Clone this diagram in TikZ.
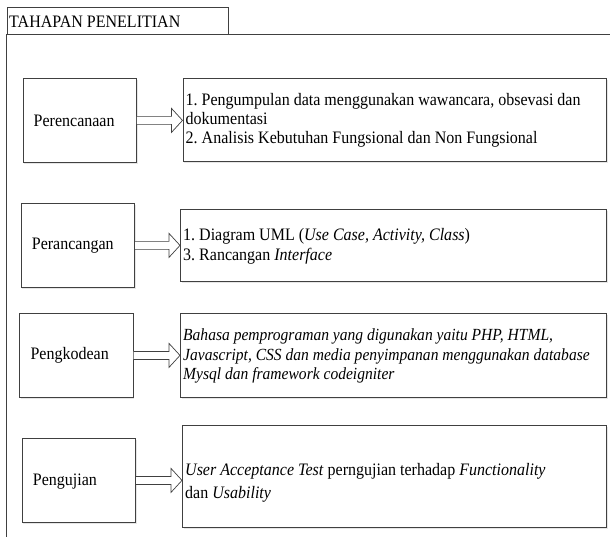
\documentclass[tikz,border=0pt]{standalone}
\usepackage{fontspec}
\setmainfont{Liberation Serif}[FakeStretch=0.915]
\usetikzlibrary{calc,shadows}
\frenchspacing
\newcommand\hollowarrow[2]{%
  \draw[harrow] ($(#1.east)+(0,-4)$) -- ($(#1.east -| #2.west)+(-11,-4)$) -- ($(#1.east -| #2.west)+(-11,-12)$) -- (#1.east -| #2.west) -- ($(#1.east -| #2.west)+(-11,12)$) -- ($(#1.east -| #2.west)+(-11,4)$) -- ($(#1.east)+(0,4)$);}
\begin{document}
\begin{tikzpicture}[x=1pt,y=-1pt,
  line/.style={draw=black!75, line width=0.8pt},
  shad/.style={fill=white, drop shadow={opacity=0.2, shadow xshift=1.2pt, shadow yshift=-1.2pt}},
  txt/.style={font=\fontsize{17.5}{19}\selectfont, inner sep=0pt, align=left, anchor=west},
  lbox/.style={line, shad, anchor=north west, inner sep=0pt, minimum height=84pt, minimum width=113.5pt},
  rbox/.style={line, shad, anchor=north west, inner sep=0pt},
  harrow/.style={draw=black!75, line width=0.7pt, fill=white, line join=miter}]
\useasboundingbox (0,0) rectangle (610,537);
% frame
\draw[line] (6.5,537) -- (6.5,34) -- (610,34);
\node[line, anchor=north west, minimum height=26.5pt, minimum width=221.5pt, inner sep=0pt] (tab) at (6.5,7.5) {};
\node[txt] (tabt) at ($(tab.west)+(2.5,0.5)$) {TAHAPAN PENELITIAN};
% left boxes
\node[lbox] (l1) at (22.5,78) {};
\node[lbox] (l2) at (20.7,203) {};
\node[lbox] (l3) at (19.3,313) {};
\node[lbox] (l4) at (21.7,438) {};
\node[txt] (l1t) at ($(l1.west)+(11,0)$) {Perencanaan};
\node[txt] (l2t) at ($(l2.west)+(11,0)$) {Perancangan};
\node[txt] (l3t) at ($(l3.west)+(11,0)$) {Pengkodean};
\node[txt] (l4t) at ($(l4.west)+(11,1)$) {Pengujian};
% right boxes
\node[rbox, minimum width=423.5pt, minimum height=83pt] (r1) at (182.5,78) {};
\node[rbox, minimum width=426pt, minimum height=72pt] (r2) at (180,209) {};
\node[rbox, minimum width=426pt, minimum height=84pt] (r3) at (180,313) {};
\node[rbox, minimum width=424pt, minimum height=102pt] (r4) at (182,425) {};
\node[txt] (r1t) at ($(r1.west)+(3,0.5)$) {1. Pengumpulan data menggunakan wawancara, obsevasi dan\\dokumentasi\\2. Analisis Kebutuhan Fungsional dan Non Fungsional};
\node[txt, font=\fontsize{17.5}{20.5}\selectfont] (r2t) at ($(r2.west)+(3,1)$) {1. Diagram UML (\emph{Use Case, Activity, Class})\\3. Rancangan \emph{Interface}};
\node[txt, font=\fontsize{17}{19.5}\selectfont\itshape] (r3t) at ($(r3.west)+(3,1)$) {Bahasa pemprograman yang digunakan yaitu PHP, HTML,\\Javascript, CSS dan media penyimpanan menggunakan database\\Mysql dan framework codeigniter};
\node[txt, font=\fontsize{17.5}{23}\selectfont] (r4t) at ($(r4.west)+(3,6)$) {\emph{User Acceptance Test} perngujian terhadap \emph{Functionality}\\dan \emph{Usability}};
% arrows
\hollowarrow{l1}{r1}
\hollowarrow{l2}{r2}
\hollowarrow{l3}{r3}
\hollowarrow{l4}{r4}
\end{tikzpicture}
\end{document}
